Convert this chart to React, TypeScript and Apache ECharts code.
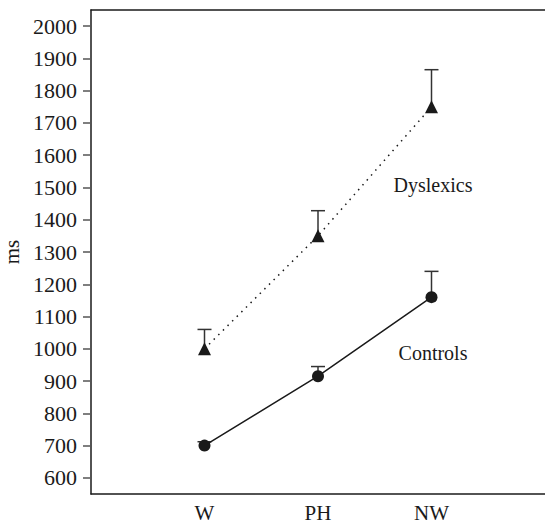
import React, { useEffect, useRef } from "react";
import * as echarts from "echarts";

const categories = ["W", "PH", "NW"];
const dyslexicsMean = [1000, 1350, 1750];
const dyslexicsUpper = [1060, 1428, 1865];
const controlsMean = [700, 915, 1160];
const controlsUpper = [712, 945, 1240];
const yTicks = [600, 700, 800, 900, 1000, 1100, 1200, 1300, 1400, 1500, 1600, 1700, 1800, 1900, 2000];

const FONT = "'Liberation Serif', 'DejaVu Serif', serif";
const INK = "#1a1a1a";

export default function App() {
  const ref = useRef<HTMLDivElement>(null);
  useEffect(() => {
    if (!ref.current) return;
    const chart = echarts.init(ref.current, null, { renderer: "svg" });
    const xPos = categories.map((_, i) => i + 1);
    const dysData = xPos.map((x, i) => [x, dyslexicsMean[i]]);
    const conData = xPos.map((x, i) => [x, controlsMean[i]]);
    const errData = [
      ...xPos.map((x, i) => [x, dyslexicsMean[i], dyslexicsUpper[i]]),
      ...xPos.map((x, i) => [x, controlsMean[i], controlsUpper[i]]),
    ];
    const option: any = {
      animation: false,
      backgroundColor: "#ffffff",
      grid: { left: 91, right: 0, top: 10, bottom: 29, containLabel: false, outerBoundsMode: "none" },
      xAxis: [
        {
          type: "value",
          min: 0,
          max: 4,
          interval: 1,
          splitLine: { show: false },
          axisTick: { show: false },
          axisLine: { show: true, onZero: false, lineStyle: { color: INK, width: 1.5 } },
          axisLabel: {
            show: true,
            margin: 8,
            fontFamily: FONT,
            fontSize: 21,
            lineHeight: 21,
            color: INK,
            formatter: (v: number) => (v >= 1 && v <= categories.length ? categories[v - 1] : ""),
          },
        },
        {
          type: "value",
          position: "top",
          min: 0,
          max: 4,
          splitLine: { show: false },
          axisTick: { show: false },
          axisLabel: { show: false },
          axisLine: { show: true, onZero: false, lineStyle: { color: INK, width: 1.5 } },
        },
      ],
      yAxis: {
        type: "value",
        min: 550,
        max: 2050,
        name: "ms",
        nameLocation: "middle",
        nameGap: 63,
        nameRotate: 90,
        nameTextStyle: { fontFamily: FONT, fontSize: 21, color: INK },
        splitLine: { show: false },
        axisLine: { show: true, onZero: false, lineStyle: { color: INK, width: 1.5 } },
        axisTick: {
          show: true,
          length: 8,
          customValues: yTicks,
          lineStyle: { color: "#555", width: 1.5 },
        },
        axisLabel: {
          show: true,
          margin: 14,
          customValues: yTicks,
          fontFamily: FONT,
          fontSize: 22,
          color: INK,
          formatter: (v: number) => String(v),
        },
      },
      series: [
        {
          type: "custom",
          data: errData,
          z: 1,
          renderItem: (params: any, api: any) => {
            const x = api.value(0);
            const lo = api.coord([x, api.value(1)]);
            const hi = api.coord([x, api.value(2)]);
            const half = 7;
            return {
              type: "group",
              children: [
                {
                  type: "line",
                  shape: { x1: lo[0], y1: lo[1], x2: hi[0], y2: hi[1] },
                  style: { stroke: "#333", lineWidth: 1.5 },
                },
                {
                  type: "line",
                  shape: { x1: hi[0] - half, y1: hi[1], x2: hi[0] + half, y2: hi[1] },
                  style: { stroke: "#333", lineWidth: 1.5 },
                },
              ],
            };
          },
        },
        {
          name: "Dyslexics",
          type: "line",
          data: dysData,
          z: 3,
          symbol: "triangle",
          symbolSize: 13,
          itemStyle: { color: INK },
          lineStyle: { color: INK, width: 1.5, type: [1.5, 5] },
        },
        {
          name: "Controls",
          type: "line",
          data: conData,
          z: 3,
          symbol: "circle",
          symbolSize: 12,
          itemStyle: { color: INK },
          lineStyle: { color: INK, width: 1.5 },
        },
      ],
      graphic: [
        {
          type: "text",
          x: 433,
          y: 185,
          style: {
            text: "Dyslexics",
            fontFamily: FONT,
            fontSize: 20,
            fill: INK,
            align: "center",
            verticalAlign: "middle",
          },
        },
        {
          type: "text",
          x: 433,
          y: 353,
          style: {
            text: "Controls",
            fontFamily: FONT,
            fontSize: 20,
            fill: INK,
            align: "center",
            verticalAlign: "middle",
          },
        },
      ],
    };
    chart.setOption(option);
    return () => chart.dispose();
  }, []);
  return (
    <div
      ref={ref}
      style={{ position: "absolute", left: 0, top: 0, width: 545, height: 523 }}
    />
  );
}
